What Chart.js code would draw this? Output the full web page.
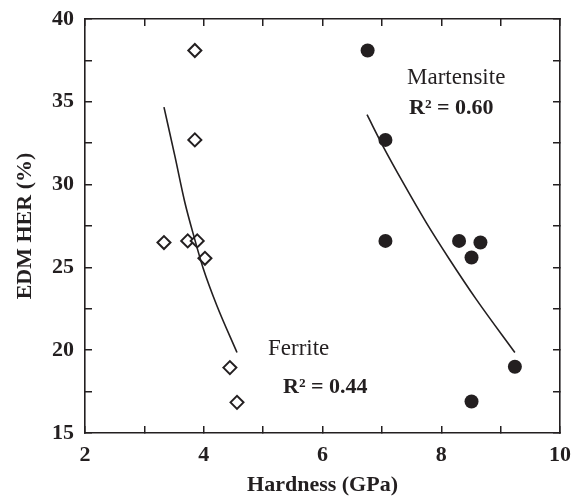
<!DOCTYPE html>
<html>
<head>
<meta charset="utf-8">
<script src="https://cdn.jsdelivr.net/npm/chart.js@4/dist/chart.umd.min.js"></script>
<style>
  html, body { margin: 0; padding: 0; background: #ffffff; }
  #wrap { width: 582px; height: 496px; }
</style>
</head>
<body>
<div id="wrap"><canvas id="c" width="582" height="496"></canvas></div>
<script>
// ---- data ----
const ferriteHardness = [3.85, 3.85, 3.33, 3.73, 3.89, 4.02, 4.44, 4.56];
const ferriteHER      = [38.1, 32.7, 26.5, 26.6, 26.6, 25.55, 18.95, 16.85];
const martHardness    = [6.76, 7.06, 7.06, 8.30, 8.66, 8.51, 9.24, 8.51];
const martHER         = [38.1, 32.7, 26.6, 26.6, 26.5, 25.6, 19.0, 16.9];

// fitted trend curves
const ferriteFitX = [3.33, 3.515, 3.68, 3.84, 3.99, 4.22, 4.56];
const ferriteFitY = [34.68, 31.70, 28.95, 26.80, 24.95, 22.70, 19.86];
const martFitX    = [6.75, 7.02, 7.36, 7.75, 8.14, 8.59, 9.24];
const martFitY    = [34.22, 32.31, 30.10, 27.69, 25.48, 23.07, 19.86];

const xMin = 2, xMax = 10, xStep = 1;
const yMin = 15, yMax = 40, yStep = 2.5;
const xTitle = 'Hardness (GPa)';
const yTitle = 'EDM HER (%)';
const labels = [
  { text: 'Martensite', bold: false },
  { text: 'R² = 0.60',  bold: true },
  { text: 'Ferrite',    bold: false },
  { text: 'R² = 0.44',  bold: true }
];

const ink = '#231f20';
const FONT = "'Liberation Serif', 'Times New Roman', serif";

function pts(xs, ys) { return xs.map((x, i) => ({ x: x, y: ys[i] })); }

const gridCommon = {
  drawOnChartArea: false,
  drawTicks: true,
  tickLength: -7,
  color: ink,
  lineWidth: 1.5
};
const borderCommon = { display: true, color: ink, width: 1.6 };

function fixSize(prop, val) {
  return s => {
    s[prop] = val;
    s.paddingTop = 0; s.paddingBottom = 0;
    s.paddingLeft = 0; s.paddingRight = 0;
  };
}

const textPlugin = {
  id: 'texts',
  afterDraw(chart) {
    const ctx = chart.ctx;
    const pos = [
      [407, 84], [409, 114], [268, 355], [283, 393]
    ];
    ctx.save();
    ctx.fillStyle = ink;
    ctx.textBaseline = 'alphabetic';
    ctx.textAlign = 'left';
    labels.forEach((l, i) => {
      ctx.font = (l.bold ? 'bold 22px ' : '23px ') + FONT;
      ctx.fillText(l.text, pos[i][0], pos[i][1]);
    });
    ctx.restore();
  }
};

new Chart(document.getElementById('c'), {
  type: 'scatter',
  data: {
    datasets: [
      {
        label: 'Ferrite fit',
        data: pts(ferriteFitX, ferriteFitY),
        showLine: true,
        borderColor: ink,
        borderWidth: 1.6,
        pointRadius: 0,
        cubicInterpolationMode: 'monotone',
        fill: false
      },
      {
        label: 'Martensite fit',
        data: pts(martFitX, martFitY),
        showLine: true,
        borderColor: ink,
        borderWidth: 1.6,
        pointRadius: 0,
        cubicInterpolationMode: 'monotone',
        fill: false
      },
      {
        label: 'Ferrite',
        data: pts(ferriteHardness, ferriteHER),
        pointStyle: 'rectRot',
        pointRadius: 6.5,
        pointBorderWidth: 2,
        pointBorderColor: ink,
        pointBackgroundColor: '#ffffff'
      },
      {
        label: 'Martensite',
        data: pts(martHardness, martHER),
        pointStyle: 'circle',
        pointRadius: 7,
        pointBorderWidth: 0,
        pointBackgroundColor: ink
      }
    ]
  },
  options: {
    responsive: false,
    animation: false,
    devicePixelRatio: 1,
    layout: { padding: 0 },
    plugins: { legend: { display: false }, tooltip: { enabled: false } },
    scales: {
      x: {
        type: 'linear', position: 'bottom', min: xMin, max: xMax,
        grid: gridCommon, border: borderCommon,
        ticks: {
          stepSize: xStep, padding: 18, color: ink,
          font: { family: FONT, size: 22, weight: 'bold', lineHeight: 1 },
          callback: v => (v % 2 === 0 ? String(v) : '')
        },
        title: {
          display: true, text: xTitle, color: ink,
          font: { family: FONT, size: 22, weight: 'bold', lineHeight: 1 },
          padding: { top: 0, bottom: 0 }
        },
        afterFit: fixSize('height', 63)
      },
      x2: {
        type: 'linear', position: 'top', min: xMin, max: xMax,
        grid: gridCommon, border: borderCommon,
        ticks: { stepSize: xStep, display: false },
        afterFit: fixSize('height', 19)
      },
      y: {
        type: 'linear', position: 'left', min: yMin, max: yMax,
        grid: gridCommon, border: borderCommon,
        ticks: {
          stepSize: yStep, padding: 18, color: ink,
          font: { family: FONT, size: 22, weight: 'bold', lineHeight: 1 },
          callback: v => (v % 5 === 0 ? String(v) : '')
        },
        title: {
          display: true, text: yTitle, color: ink,
          font: { family: FONT, size: 22, weight: 'bold', lineHeight: 1 },
          padding: { top: 14, bottom: 0 }
        },
        afterFit: fixSize('width', 85)
      },
      y2: {
        type: 'linear', position: 'right', min: yMin, max: yMax,
        grid: gridCommon, border: borderCommon,
        ticks: { stepSize: yStep, display: false },
        afterFit: fixSize('width', 22)
      }
    }
  },
  plugins: [textPlugin]
});
</script>
</body>
</html>
